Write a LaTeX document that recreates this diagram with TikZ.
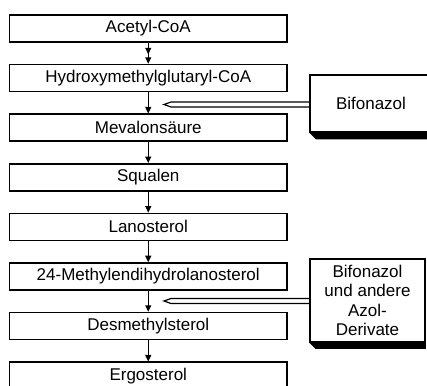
\documentclass[tikz,border=0pt]{standalone}
\usepackage{fontspec}
\setmainfont{Liberation Sans}
\usetikzlibrary{arrows.meta,calc,decorations.markings}
\begin{document}
\begin{tikzpicture}[x=1pt,y=-1pt,
  stepbox/.style={draw,line width=1.6pt,minimum width=277.5pt,minimum height=27pt,inner sep=0pt,
     font=\fontsize{17}{19.5}\selectfont},
  sidebox/.style={draw,line width=1.5pt,inner sep=0pt,align=center,
     font=\fontsize{17}{19.5}\selectfont},
  arr/.style={line width=1.1pt,-{Triangle[length=6.5pt,width=6pt]}},
  midtip/.style={postaction={decorate},decoration={markings,
     mark=at position 0.55 with {\arrow{Triangle[length=6.5pt,width=6pt]}}}},
  pointer/.style={line width=1.2pt,line join=miter}]
\useasboundingbox (0,0) rectangle (427,385);
\clip (0,0) rectangle (427,385);
\node[stepbox] (a1) at (148.25,28.5) {Acetyl-CoA};
\node[stepbox] (a2) at (148.25,78.1) {Hydroxymethylglutaryl-CoA};
\node[stepbox] (a3) at (148.25,127.7) {Mevalonsäure};
\node[stepbox] (a4) at (148.25,177.3) {Squalen};
\node[stepbox] (a5) at (148.25,226.9) {Lanosterol};
\node[stepbox] (a6) at (148.25,276.5) {24-Methylendihydrolanosterol};
\node[stepbox] (a7) at (148.25,326.1) {Desmethylsterol};
\node[stepbox] (a8) at (148.25,375.7) {Ergosterol};
\draw[arr,midtip] (a1) -- (a2);
\draw[arr] (a2) -- (a3);
\draw[arr] (a3) -- (a4);
\draw[arr] (a4) -- (a5);
\draw[arr] (a5) -- (a6);
\draw[arr] (a6) -- (a7);
\draw[arr] (a7) -- (a8);
% side boxes
\node[sidebox,minimum width=122pt,minimum height=57pt] (b1) at (371,103.5) {Bifonazol};
\node[sidebox,minimum width=115pt,minimum height=83pt] (b2) at (367.5,300.5) {Bifonazol\\und andere\\Azol-\\Derivate};
\fill (b1.south west) -- ++(6.5,6.5) -- ([yshift=-6.5pt]b1.south east) -- (b1.south east) -- cycle;
\fill (b2.south west) -- ++(6,6) -- ([yshift=-6pt]b2.south east) -- (b2.south east) -- cycle;
% pointers
\coordinate (p1) at (164,104.5);
\coordinate (p2) at (164,301);
\draw[pointer] ($(b1.west |- p1)+(0,-2.5)$) -- ($(p1)+(7,-2.5)$) -- (p1) -- ($(p1)+(7,2.5)$) -- ($(b1.west |- p1)+(0,2.5)$);
\draw[pointer] ($(b2.west |- p2)+(0,-2.5)$) -- ($(p2)+(7,-2.5)$) -- (p2) -- ($(p2)+(7,2.5)$) -- ($(b2.west |- p2)+(0,2.5)$);
\end{tikzpicture}
\end{document}
